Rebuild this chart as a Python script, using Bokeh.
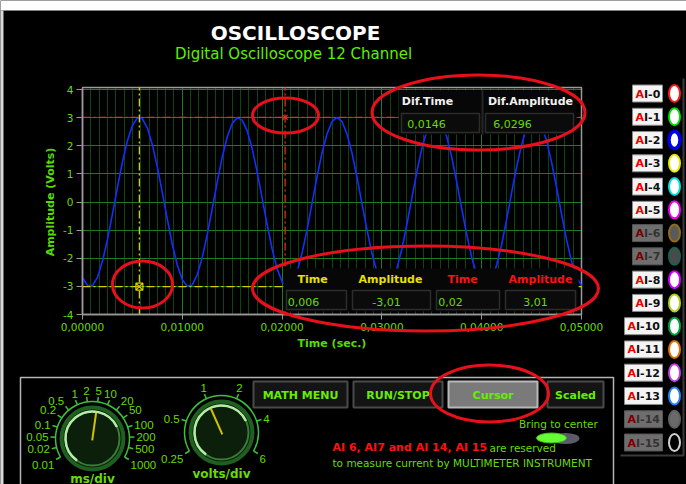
import numpy as np
from bokeh.plotting import figure
from bokeh.models import Range1d, LinearAxis, Grid, FixedTicker, SingleIntervalTicker, CustomJSTickFormatter
from bokeh.core.properties import value
from bokeh.embed import file_html
from bokeh.resources import INLINE

# ---------------- data ----------------
sample_step = 0.0005  # seconds between samples
amplitude_volts = [
    -2.68, -2.97, -2.97, -2.68, -2.11, -1.34, -0.43, 0.52, 1.42, 2.18,
    2.72, 2.99, 2.96, 2.63, 2.04, 1.25, 0.33, -0.62, -1.51, -2.24,
    -2.76, -3.00, -2.94, -2.58, -1.97, -1.16, -0.24, 0.71, 1.59, 2.31,
    2.79, 3.00, 2.91, 2.53, 1.90, 1.07, 0.14, -0.80, -1.67, -2.37,
    -2.83, -3.01, -2.89, -2.48, -1.82, -0.98, -0.05, 0.89, 1.75, 2.42,
    2.86, 3.01, 2.86, 2.42, 1.75, 0.89, -0.05, -0.98, -1.82, -2.48,
    -2.89, -3.01, -2.83, -2.37, -1.67, -0.80, 0.14, 1.07, 1.90, 2.53,
    2.91, 3.00, 2.79, 2.31, 1.59, 0.71, -0.24, -1.16, -1.97, -2.58,
    -2.94, -3.00, -2.76, -2.24, -1.51, -0.62, 0.33, 1.25, 2.04, 2.63,
    2.96, 2.99, 2.72, 2.18, 1.42, 0.52, -0.43, -1.34, -2.11, -2.68,
    -2.97,
]
time_ticks = [0.0, 0.01, 0.02, 0.03, 0.04, 0.05]
volt_ticks = [-4, -3, -2, -1, 0, 1, 2, 3, 4]
minor_per_major = 12

cursor_time = [0.0057, 0.0203]
cursor_amp = [-3.01, 3.01]
cursor_colors = ["#d8cc00", "#ff2020"]
cursor_markers = ["square_x", "x"]

readout_headers = ["Time", "Amplitude", "Time", "Amplitude"]
readout_header_colors = ["#e8e000", "#e8e000", "#ff1010", "#ff1010"]
readout_values = ["0,006", "-3,01", "0,02", "3,01"]
diff_headers = ["Dif.Time", "Dif.Amplitude"]
diff_values = ["0,0146", "6,0296"]

channels = ["AI-0", "AI-1", "AI-2", "AI-3", "AI-4", "AI-5", "AI-6", "AI-7",
            "AI-8", "AI-9", "AI-10", "AI-11", "AI-12", "AI-13", "AI-14", "AI-15"]
channel_ring = ["#ff1a1a", "#00dd00", "#0000ee", "#e8e800", "#00e0e0", "#ee00ee", "#8c6d1f", "#1f5f4f",
                "#cc00ff", "#b0d020", "#00a040", "#e07000", "#c040e0", "#2080ff", "#606060", "#d0d0d0"]
channel_fill = ["#ffffff", "#ffffff", "#ffffff", "#ffffff", "#ffffff", "#ffffff", "#5a5a5a", "#4a4a4a",
                "#ffffff", "#ffffff", "#ffffff", "#ffffff", "#ffffff", "#ffffff", "#6a6a6a", "#000000"]
reserved_channels = ["AI-6", "AI-7", "AI-14", "AI-15"]

ms_div_labels = ["0.01", "0.02", "0.05", "0.1", "0.2", "0.5", "1", "2", "5",
                 "10", "20", "50", "100", "200", "500", "1000"]
ms_div_setting = "5"
volts_div_labels = ["0.25", "0.5", "1", "2", "4", "6"]
volts_div_setting = "1"

buttons = ["MATH MENU", "RUN/STOP", "Cursor", "Scaled"]
active_button = "Cursor"

# ---------------- geometry ----------------
W, H = 686, 484
def px(X): return X
def py(Y): return H - Y

X0, X1, YT, YB = 82.0, 581.0, 89.0, 314.0
t_lo, t_hi = time_ticks[0], time_ticks[-1]
v_lo, v_hi = volt_ticks[0], volt_ticks[-1]
sx = (X1 - X0) / (t_hi - t_lo)
sy = (YB - YT) / (v_hi - v_lo)
x_start = t_lo - X0 / sx
x_end = t_hi + (W - X1) / sx
y_end = v_hi + YT / sy
y_start = v_lo - (H - YB) / sy
v_top = v_hi + 2 / sy

p = figure(width=W, height=H, x_range=Range1d(x_start, x_end), y_range=Range1d(y_start, y_end),
           x_axis_type=None, y_axis_type=None, min_border=0, toolbar_location=None,
           output_backend="svg", background_fill_color="black", border_fill_color="black",
           outline_line_color=None)
p.extra_x_ranges = {"px": Range1d(0, W)}
p.extra_y_ranges = {"py": Range1d(0, H)}
PX = dict(x_range_name="px", y_range_name="py")
FONT = "DejaVu Sans"
GREEN = "#66dd00"


def txt(xs, ys, texts, color, size, bold=False, align="center", baseline="middle", font=FONT, level="glyph"):
    p.text(x=[px(v) for v in xs], y=[py(v) for v in ys], text=list(texts), text_color=color,
           text_font=value(font), text_font_size=f"{size}px",
           text_font_style="bold" if bold else "normal",
           text_align=align, text_baseline=baseline, level=level, **PX)


# window frame (white strip on top, grey edge on left)
p.quad(left=[px(0)], right=[px(W)], top=[py(0)], bottom=[py(10)], fill_color="#ffffff", line_color=None, **PX)
p.quad(left=[px(0)], right=[px(3)], top=[py(10)], bottom=[py(H)], fill_color="#d8d8d8", line_color=None, **PX)

# ---------------- chart grid ----------------
major_step = time_ticks[1] - time_ticks[0]
xgrid = Grid(dimension=0, ticker=SingleIntervalTicker(interval=major_step, num_minor_ticks=minor_per_major),
             bounds=(t_lo, t_hi), grid_line_color="#1d7d1d", minor_grid_line_color="#0b470b")
ygrid = Grid(dimension=1, ticker=FixedTicker(ticks=volt_ticks), bounds=(v_lo, v_hi),
             grid_line_color="#1d7d1d")
if "cross_bounds" in Grid.properties():
    xgrid.cross_bounds = (v_lo, v_top)
    ygrid.cross_bounds = (t_lo, t_hi)
    p.add_layout(xgrid, "center")
    p.add_layout(ygrid, "center")
else:
    mt = [t_lo + i * major_step / minor_per_major for i in range(1, minor_per_major * (len(time_ticks) - 1))]
    p.segment(x0=mt, y0=[v_lo] * len(mt), x1=mt, y1=[v_top] * len(mt), line_color="#0b470b")
    p.segment(x0=time_ticks[1:-1], y0=[v_lo] * 4, x1=time_ticks[1:-1], y1=[v_top] * 4, line_color="#1d7d1d")
    p.segment(x0=[t_lo] * 7, y0=volt_ticks[1:-1], x1=[t_hi] * 7, y1=volt_ticks[1:-1], line_color="#1d7d1d")

p.quad(left=[t_lo], right=[t_hi], bottom=[v_lo], top=[v_top], fill_color=None,
       line_color="#9a9a9a", line_width=1.5)

# ---------------- waveform ----------------
times = np.arange(len(amplitude_volts)) * sample_step
p.line(times, amplitude_volts, line_color="#1030ff", line_width=1.6, line_join="round")

# ---------------- cursors ----------------
for t, a, c, m in zip(cursor_time, cursor_amp, cursor_colors, cursor_markers):
    p.segment(x0=[t], y0=[v_lo], x1=[t], y1=[v_top], line_color=c, line_width=1.3, line_dash="8 3 2 3")
    p.segment(x0=[t_lo], y0=[a], x1=[t_hi], y1=[a], line_color=c, line_width=1.3, line_dash="8 3 2 3")
    p.scatter([t], [a], marker=m, size=7, line_color=c, fill_color=None, line_width=1.2)

# ---------------- readout boxes ----------------
# Dif box
p.quad(left=[px(398)], right=[px(576)], top=[py(90)], bottom=[py(134)], fill_color="#070707", line_color=None, **PX)
p.segment(x0=[px(482)], y0=[py(90)], x1=[px(482)], y1=[py(134)], line_color="#262626", line_width=2, **PX)
p.quad(left=[px(401), px(485)], right=[px(479), px(573)], top=[py(113)] * 2, bottom=[py(132)] * 2,
       fill_color="#0b0b0b", line_color="#2c2c2c", line_width=1.5, **PX)
txt([427, 530], [101, 101], diff_headers, "#f0f0f0", 11, bold=True)
txt([426, 512], [123, 123], diff_values, GREEN, 11)

# cursor readout box
cols = [283, 349, 433, 502, 578]
p.quad(left=[px(283)], right=[px(578)], top=[py(268)], bottom=[py(311)], fill_color="#070707", line_color=None, **PX)
p.quad(left=[px(c + 3) for c in cols[:-1]], right=[px(c - 3) for c in cols[1:]], top=[py(290)] * 4,
       bottom=[py(309)] * 4, fill_color="#0b0b0b", line_color="#2c2c2c", line_width=1.5, **PX)
txt([312, 390, 462, 540], [279] * 4, readout_headers, readout_header_colors, 11, bold=True)
txt([303, 386, 450, 535], [301] * 4, readout_values, GREEN, 11)

# ---------------- axes ----------------
xaxis = LinearAxis(fixed_location=v_lo, bounds=(t_lo, t_hi), ticker=FixedTicker(ticks=time_ticks),
                   formatter=CustomJSTickFormatter(code="return tick.toFixed(5).replace('.', ',');"),
                   axis_label="Time (sec.)")
yaxis = LinearAxis(fixed_location=t_lo, bounds=(v_lo, v_hi), ticker=FixedTicker(ticks=volt_ticks),
                   formatter=CustomJSTickFormatter(code="return tick.toFixed(0);"),
                   axis_label="Amplitude (Volts)")
for ax, out in ((xaxis, 5), (yaxis, 6)):
    ax.axis_line_color = "#9a9a9a"
    ax.axis_line_width = 1.5
    ax.major_tick_line_color = "#9a9a9a"
    ax.major_tick_out = out
    ax.major_tick_in = 0
    ax.minor_tick_line_color = None
    ax.major_label_text_color = GREEN
    ax.major_label_text_font = FONT
    ax.major_label_text_font_size = "10.5px"
    ax.major_label_standoff = 3
    ax.axis_label_text_color = "#55dd00"
    ax.axis_label_text_font = FONT
    ax.axis_label_text_font_size = "11px"
    ax.axis_label_text_font_style = "bold"
    ax.axis_label_standoff = 3
p.add_layout(xaxis, "below")
p.add_layout(yaxis, "left")

# ---------------- title ----------------
txt([295], [32], ["OSCILLOSCOPE"], "#ffffff", 20, bold=True)
txt([293], [53], ["Digital Oscilloscope 12 Channel"], "#5cf000", 15)

# ---------------- channel legend ----------------
p.multi_line(xs=[[px(683), px(683), px(620)]], ys=[[py(78), py(455), py(455)]], line_color="#3a3a3a", line_width=2, **PX)
for i, name in enumerate(channels):
    Yc = 93 + i * (442 - 93) / (len(channels) - 1)
    left = 632 if len(name) == 4 else 624
    grey = name in reserved_channels
    p.quad(left=[px(left)], right=[px(662)], top=[py(Yc - 8.5)], bottom=[py(Yc + 8.5)],
           fill_color="#6e6e6e" if grey else "#f4f4f4", line_color="#555555" if grey else "#8a8a8a", **PX)
    txt([left + 3], [Yc + 0.5], [name[0]], "#7a0000" if grey else "#ee0000", 11, bold=True, align="left")
    txt([left + 11.5], [Yc + 0.5], [name[1:]], "#333333" if grey else "#111111", 11, bold=True, align="left")
    p.ellipse(x=[px(674)], y=[py(Yc)], width=11, height=17, fill_color=channel_fill[i],
              line_color=channel_ring[i], line_width=3.5 if i == 2 else 2, **PX)

# ---------------- control panel ----------------
p.multi_line(xs=[[px(20), px(20), px(613), px(613)]], ys=[[py(H + 5), py(377), py(377), py(H + 5)]],
             line_color="#b4b4b4", line_width=1.5, **PX)


def knob(cx, cy, labels, setting, caption, caption_y):
    n = len(labels)
    angs = np.radians(np.linspace(210, -30, n))
    X, Y = px(cx), py(cy)
    p.arc(x=[X], y=[Y], radius=37, start_angle=np.radians(-30), end_angle=np.radians(210),
          line_color="#3cc03c", line_width=1.5, **PX)
    p.segment(x0=list(X + 37 * np.cos(angs)), y0=list(Y + 37 * np.sin(angs)),
              x1=list(X + 42 * np.cos(angs)), y1=list(Y + 42 * np.sin(angs)),
              line_color="#3cc03c", line_width=1.5, **PX)
    p.circle(x=[X], y=[Y], radius=31, fill_color="#0b1f0b", line_color="#1f5f1f", line_width=4, **PX)
    p.circle(x=[X], y=[Y], radius=27, fill_color=None, line_color="#3a7a3a", line_width=2, **PX)
    p.arc(x=[X], y=[Y], radius=27, start_angle=np.radians(25), end_angle=np.radians(235),
          line_color="#b5eca5", line_width=2.5, **PX)
    a = angs[labels.index(setting)]
    p.segment(x0=[X + 2 * np.cos(a + np.pi)], y0=[Y + 2 * np.sin(a + np.pi)],
              x1=[X + 26 * np.cos(a)], y1=[Y + 26 * np.sin(a)], line_color="#d4c000", line_width=2, **PX)
    aligns, bases, lx, ly = [], [], [], []
    for ang in angs:
        c, s = np.cos(ang), np.sin(ang)
        aligns.append("right" if c < -0.45 else ("left" if c > 0.45 else "center"))
        bases.append("bottom" if s > 0.5 else ("top" if s <= -0.45 else "middle"))
        lx.append(X + 44 * c)
        ly.append(Y + 44 * s)
    p.text(x=lx, y=ly, text=labels, text_align=aligns, text_baseline=bases, text_color=GREEN,
           text_font=value("Liberation Sans"), text_font_size="11.5px", **PX)
    txt([cx], [caption_y], [caption], GREEN, 12, bold=True)


knob(92, 438, ms_div_labels, ms_div_setting, "ms/div", 478)
knob(221, 432, volts_div_labels, volts_div_setting, "volts/div", 473)

# buttons
btn_l = [253, 353, 448, 547]
btn_r = [347, 442, 537, 603]
for b, l, r in zip(buttons, btn_l, btn_r):
    act = b == active_button
    p.quad(left=[px(l)], right=[px(r)], top=[py(381)], bottom=[py(407)],
           fill_color="#7a7a7a" if act else "#141414", line_color="#b8b8b8" if act else "#4a4a4a",
           line_width=2, **PX)
    txt([(l + r) / 2], [394.5], [b], "#66ee00", 11, bold=True)

# bring to center toggle
txt([558], [423], ["Bring to center"], "#66dd00", 10.5)
p.ellipse(x=[px(565)], y=[py(438)], width=28, height=11, fill_color="#5a5a6a", line_color=None, **PX)
p.ellipse(x=[px(551)], y=[py(437.5)], width=30, height=10, fill_color="#66ff33", line_color="#44bb22", **PX)

# notes
txt([332], [447], ["AI 6, AI7 and AI 14, AI 15"], "#ff1010", 11, bold=True, align="left")
txt([489], [447], ["are reserved"], "#66dd00", 10.5, align="left")
txt([332], [462], ["to measure current by MULTIMETER INSTRUMENT"], "#66dd00", 10.5, align="left")

# ---------------- red highlight ellipses ----------------
ell_x = [478, 285, 425, 142, 489]
ell_y = [112, 115, 288, 284, 393]
ell_w = [213, 66, 346, 60, 118]
ell_h = [75, 35, 85, 47, 57]
p.ellipse(x=[px(v) for v in ell_x], y=[py(v) for v in ell_y], width=ell_w, height=ell_h,
          fill_color=None, line_color="#e8101a", line_width=3, level="overlay", **PX)

open("out.html", "w").write(file_html(p, INLINE))
